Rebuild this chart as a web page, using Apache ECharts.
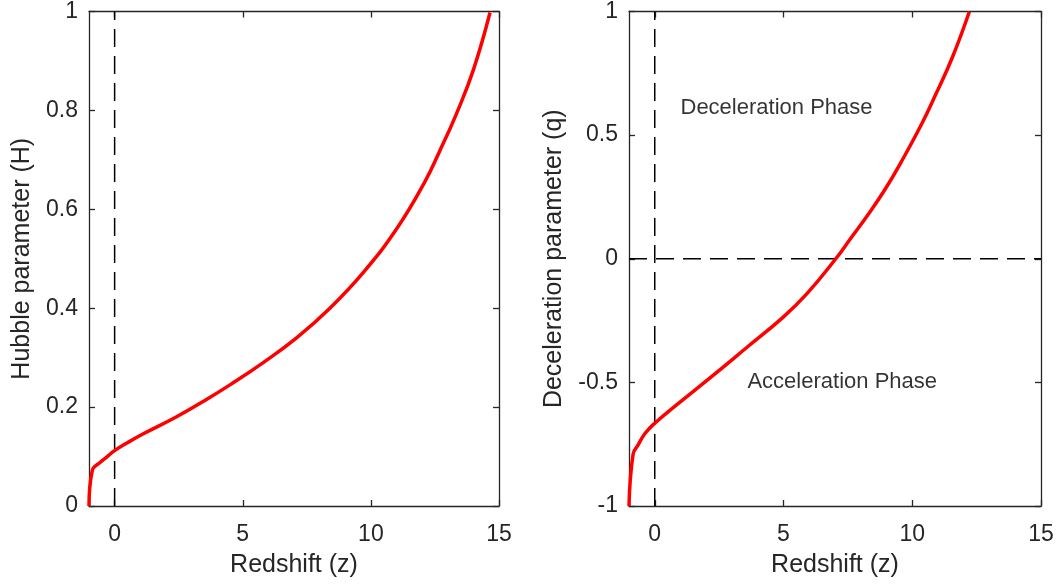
<!DOCTYPE html>
<html>
<head>
<meta charset="utf-8">
<script src="https://cdn.jsdelivr.net/npm/echarts@6/dist/echarts.min.js"></script>
<style>
html,body{margin:0;padding:0;background:#fff;}
#chart{width:1060px;height:585px;}
</style>
</head>
<body>
<div id="chart"></div>
<script>
// ---- data ----
const hubbleZ = [-1, -0.87, -0.57, -0.31, 0, 0.5, 1.12, 2.4, 3.6, 4.5, 5.8, 7.1, 8.4, 9.7, 11.0, 12.1, 12.67, 13.33, 14.0, 14.65];
const hubbleH = [0, 0.072, 0.088, 0.099, 0.112, 0.128, 0.146, 0.18, 0.216, 0.245, 0.29, 0.34, 0.40, 0.472, 0.56, 0.655, 0.716, 0.792, 0.882, 0.998];

const decelZ = [-1, -0.84, -0.64, -0.38, 0, 0.8, 2.11, 3.56, 5.0, 5.92, 7.03, 7.62, 8.28, 8.94, 9.59, 10.38, 10.9, 11.56, 12.22];
const decelQ = [-1, -0.79, -0.752, -0.707, -0.665, -0.595, -0.485, -0.36, -0.235, -0.14, 0, 0.084, 0.178, 0.28, 0.395, 0.548, 0.662, 0.815, 1.0];

const xTicks = [0, 5, 10, 15];
const xRange = [-1, 15];
const hRange = [0, 1];
const qRange = [-1, 1];

const annotationLabels = ['Deceleration Phase', 'Acceleration Phase'];
const annotationZ = [1, 3.6];
const annotationQ = [0.61, -0.5];

// ---- chart ----
const axisColor = '#262626';
const fontFamily = '"Liberation Sans", Arial, Helvetica, sans-serif';

function xAxisDef(gridIndex, position, withLabels) {
  return {
    type: 'value', gridIndex: gridIndex, position: position,
    min: xRange[0], max: xRange[1],
    axisLine: { show: true, onZero: false, lineStyle: { color: axisColor, width: 1.3 } },
    axisTick: { show: true, inside: true, length: 6, customValues: xTicks, lineStyle: { color: axisColor, width: 1.3 } },
    axisLabel: { show: withLabels, customValues: xTicks, color: axisColor, fontSize: 23, margin: 17, fontFamily: fontFamily },
    splitLine: { show: false },
    name: withLabels ? 'Redshift (z)' : '',
    nameLocation: 'middle', nameGap: 47,
    nameTextStyle: { color: axisColor, fontSize: 25, fontFamily: fontFamily }
  };
}
function yAxisDef(gridIndex, position, range, interval, withLabels, name, gap) {
  return {
    type: 'value', gridIndex: gridIndex, position: position,
    min: range[0], max: range[1], interval: interval,
    axisLine: { show: true, onZero: false, lineStyle: { color: axisColor, width: 1.3 } },
    axisTick: { show: true, inside: true, length: 6, lineStyle: { color: axisColor, width: 1.3 } },
    axisLabel: { show: withLabels, color: axisColor, fontSize: 23, margin: 11, fontFamily: fontFamily },
    splitLine: { show: false },
    name: withLabels ? name : '',
    nameLocation: 'middle', nameGap: gap,
    nameTextStyle: { color: axisColor, fontSize: 25, fontFamily: fontFamily }
  };
}

const dashStyle = { color: '#000', width: 1.5, type: [18, 9] };

const chart = echarts.init(document.getElementById('chart'), null, { renderer: 'canvas' });
chart.setOption({
  animation: false,
  backgroundColor: '#fff',
  grid: [
    { left: 89, top: 7, width: 410, height: 499 },
    { left: 629, top: 7, width: 412, height: 499 }
  ],
  xAxis: [
    xAxisDef(0, 'bottom', true),
    xAxisDef(0, 'top', false),
    xAxisDef(1, 'bottom', true),
    xAxisDef(1, 'top', false)
  ],
  yAxis: [
    yAxisDef(0, 'left', hRange, 0.2, true, 'Hubble parameter (H)', 54),
    yAxisDef(0, 'right', hRange, 0.2, false, '', 0),
    yAxisDef(1, 'left', qRange, 0.5, true, 'Deceleration parameter (q)', 62),
    yAxisDef(1, 'right', qRange, 0.5, false, '', 0)
  ],
  series: [
    { type: 'line', xAxisIndex: 0, yAxisIndex: 0, symbol: 'none', silent: true,
      data: [[0, hRange[0]], [0, hRange[1]]], lineStyle: dashStyle, z: 2 },
    { type: 'line', xAxisIndex: 0, yAxisIndex: 0, symbol: 'none', silent: true,
      smooth: 0.45,
      data: hubbleZ.map((z, i) => [z, hubbleH[i]]),
      lineStyle: { color: '#ff0000', width: 3.5 }, z: 3 },
    { type: 'line', xAxisIndex: 2, yAxisIndex: 2, symbol: 'none', silent: true,
      data: [[0, qRange[0]], [0, qRange[1]]], lineStyle: dashStyle, z: 2 },
    { type: 'line', xAxisIndex: 2, yAxisIndex: 2, symbol: 'none', silent: true,
      data: [[xRange[0], 0], [xRange[1], 0]], lineStyle: dashStyle, z: 2 },
    { type: 'line', xAxisIndex: 2, yAxisIndex: 2, symbol: 'none', silent: true,
      smooth: 0.45,
      data: decelZ.map((z, i) => [z, decelQ[i]]),
      lineStyle: { color: '#ff0000', width: 3.5 }, z: 3 },
    { type: 'scatter', xAxisIndex: 2, yAxisIndex: 2, symbolSize: 1, silent: true,
      itemStyle: { color: 'rgba(0,0,0,0)' },
      data: annotationLabels.map((t, i) => ({ name: t, value: [annotationZ[i], annotationQ[i]] })),
      label: { show: true, position: 'inside', align: 'left', verticalAlign: 'middle',
        formatter: '{b}', color: '#000', fontSize: 22, fontFamily: fontFamily }, z: 4 }
  ]
});
</script>
</body>
</html>
